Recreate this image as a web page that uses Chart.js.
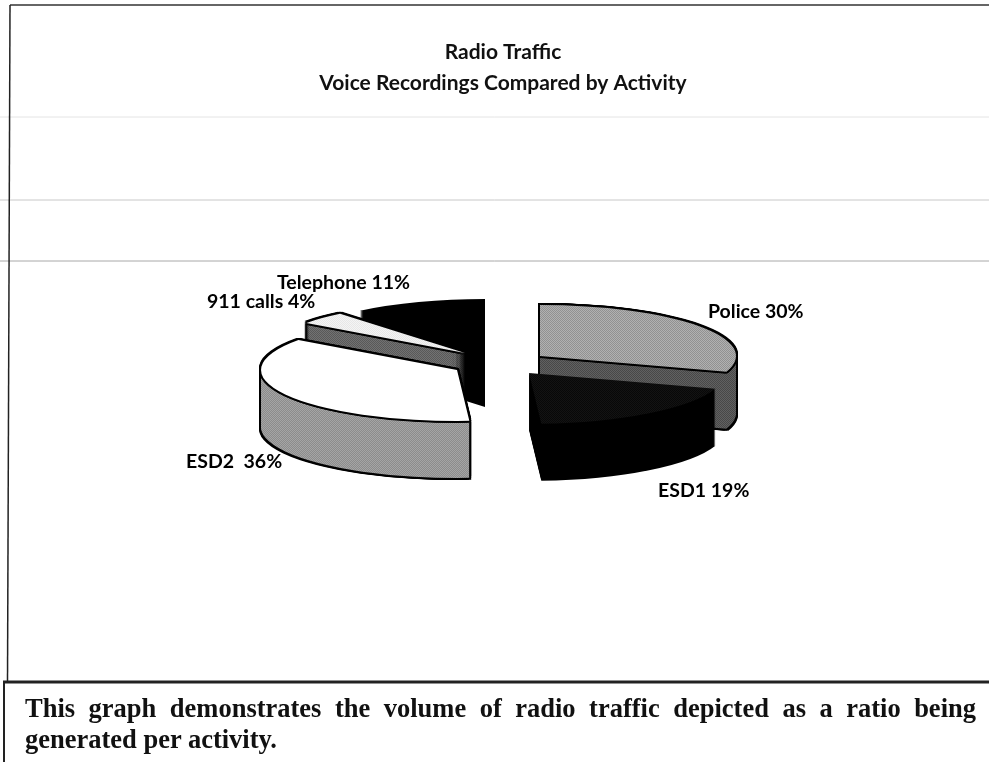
<!DOCTYPE html>
<html>
<head>
<meta charset="utf-8">
<title>Radio Traffic</title>
<script src="https://cdn.jsdelivr.net/npm/chart.js@4"></script>
<style>
  body { margin: 0; background: #fff; width: 989px; height: 763px; overflow: hidden; position: relative; }
  #chart { position: absolute; left: 0; top: 0; }
  #caption {
    position: absolute; left: 25px; top: 693px; width: 951px;
    font: bold 26.5px/31px "Liberation Serif", serif; color: #111;
  }
  #caption span { display: block; white-space: nowrap; }
  #caption .first { white-space: normal; text-align: justify; text-align-last: justify; }
</style>
</head>
<body>
<canvas id="chart" width="989" height="763"></canvas>
<div id="caption"><span class="first">This graph demonstrates the volume of radio traffic depicted as a ratio being</span><span>generated per activity.</span></div>
<script>
// Chart data
const categories = ["Police", "ESD1", "ESD2 ", "911 calls", "Telephone"];
const shares = [30, 19, 36, 4, 11];
const titleLines = ["Radio Traffic", "Voice Recordings Compared by Activity"];

// Faux 3D look: tilt, wall height, how far each slice is pulled out, paint order
const pieCenter = { x: 497, y: 362 };
const pieRadius = 196;
const tilt = 0.26;
const wallHeight = 57;
const explode = [[43, -6], [32, 11], [-40, 8], [-32, -9], [-12, -12]];
const paintOrder = [4, 3, 2, 0, 1];
const outlined = [true, false, true, true, false];
const labelSpots = [[708, 312], [658, 491], [186, 462], [207, 302], [277, 283]];

// Scanned paper lines around the chart
const frameLines = [
  [0, 117, 989, 117, "#e4e4e4", 1],
  [0, 200, 989, 200, "#c8c8c8", 1],
  [0, 261, 989, 261, "#a8a8a8", 1],
  [10, 5, 989, 5, "#333", 1.5],
  [10, 5, 7.5, 682, "#222", 1.5],
  [3, 682, 989, 682, "#222", 3],
  [4, 682, 4, 762, "#222", 2]
];

// Checker fill, to look like the halftone of the scan
function dither(dark, light) {
  const tile = document.createElement("canvas");
  tile.width = tile.height = 2;
  const c = tile.getContext("2d");
  c.fillStyle = light;
  c.fillRect(0, 0, 2, 2);
  c.fillStyle = dark;
  c.fillRect(0, 0, 1, 1);
  c.fillRect(1, 1, 1, 1);
  const pattern = c.createPattern(tile, "repeat");
  pattern.setTransform(new DOMMatrix().scale(1, 1 / tilt));
  return pattern;
}

const topColors = [dither("#777", "#ccc"), dither("#000", "#1c1c1c"), "#ffffff", dither("#ddd", "#fff"), "#000000"];
// two phases per wall: swapped on every layer so the checker does not turn into stripes
const wallColors = [
  [dither("#333", "#777"), dither("#777", "#333")],
  ["#000000", "#000000"],
  [dither("#777", "#bbb"), dither("#bbb", "#777")],
  [dither("#444", "#888"), dither("#888", "#444")],
  ["#000000", "#000000"]
];

function drawSlice(ctx, arc, i, color, dx, dy) {
  const piece = Object.create(arc);
  piece.options = Object.assign({}, arc.options, { backgroundColor: color, borderWidth: 0 });
  ctx.save();
  ctx.translate(pieCenter.x + explode[i][0] + dx, pieCenter.y + explode[i][1] + dy);
  ctx.scale(1, tilt);
  ctx.translate(-arc.x, -arc.y);
  piece.draw(ctx);
  ctx.restore();
}

const pie3d = {
  id: "pie3d",
  beforeDraw(chart) {
    const ctx = chart.ctx;
    frameLines.forEach(([x1, y1, x2, y2, color, width]) => {
      ctx.strokeStyle = color;
      ctx.lineWidth = width;
      ctx.beginPath();
      ctx.moveTo(x1, y1);
      ctx.lineTo(x2, y2);
      ctx.stroke();
    });
  },
  beforeDatasetsDraw(chart) {
    const ctx = chart.ctx;
    const arcs = chart.getDatasetMeta(0).data;
    paintOrder.forEach((i) => {
      const arc = arcs[i];
      // black silhouette first, then wall, then the top face
      if (outlined[i]) {
        for (let h = 0; h <= wallHeight; h += 1) {
          [[-2, -2], [2, -2], [-2, 2], [2, 2], [0, -2], [0, 2], [-2, 0], [2, 0]].forEach(([dx, dy]) => {
            drawSlice(ctx, arc, i, "#000", dx, h + dy);
          });
        }
      }
      for (let h = wallHeight; h > 0; h -= 1) {
        drawSlice(ctx, arc, i, wallColors[i][h % 2], 0, h);
      }
      if (outlined[i]) {
        [[-2, 0], [2, 0], [0, -2], [0, 2], [-1.5, -1.5], [1.5, -1.5], [-1.5, 1.5], [1.5, 1.5]].forEach(([dx, dy]) => {
          drawSlice(ctx, arc, i, "#000", dx, dy);
        });
      }
      drawSlice(ctx, arc, i, topColors[i], 0, 0);
    });
    return false;
  },
  // returning false above also skips afterDatasetsDraw, so labels go here
  afterDraw(chart) {
    const ctx = chart.ctx;
    ctx.fillStyle = "#000";
    ctx.font = "bold 19.5px Lato, sans-serif";
    ctx.textBaseline = "middle";
    categories.forEach((name, i) => {
      ctx.fillText(name + " " + shares[i] + "%", labelSpots[i][0], labelSpots[i][1]);
    });
  }
};

const radioChart = new Chart(document.getElementById("chart"), {
  type: "pie",
  plugins: [pie3d],
  data: {
    labels: categories,
    datasets: [{
      data: shares,
      radius: pieRadius,
      borderWidth: 0,
      backgroundColor: topColors
    }]
  },
  options: {
    responsive: false,
    animation: false,
    events: [],
    layout: { padding: { left: 17 } },
    plugins: {
      legend: { display: false },
      tooltip: { enabled: false },
      title: {
        display: true,
        text: titleLines,
        color: "#111",
        font: { family: "Lato, sans-serif", size: 21, weight: "bold", lineHeight: 1.5 },
        padding: { top: 36, bottom: 10 }
      }
    }
  }
});
</script>
</body>
</html>
